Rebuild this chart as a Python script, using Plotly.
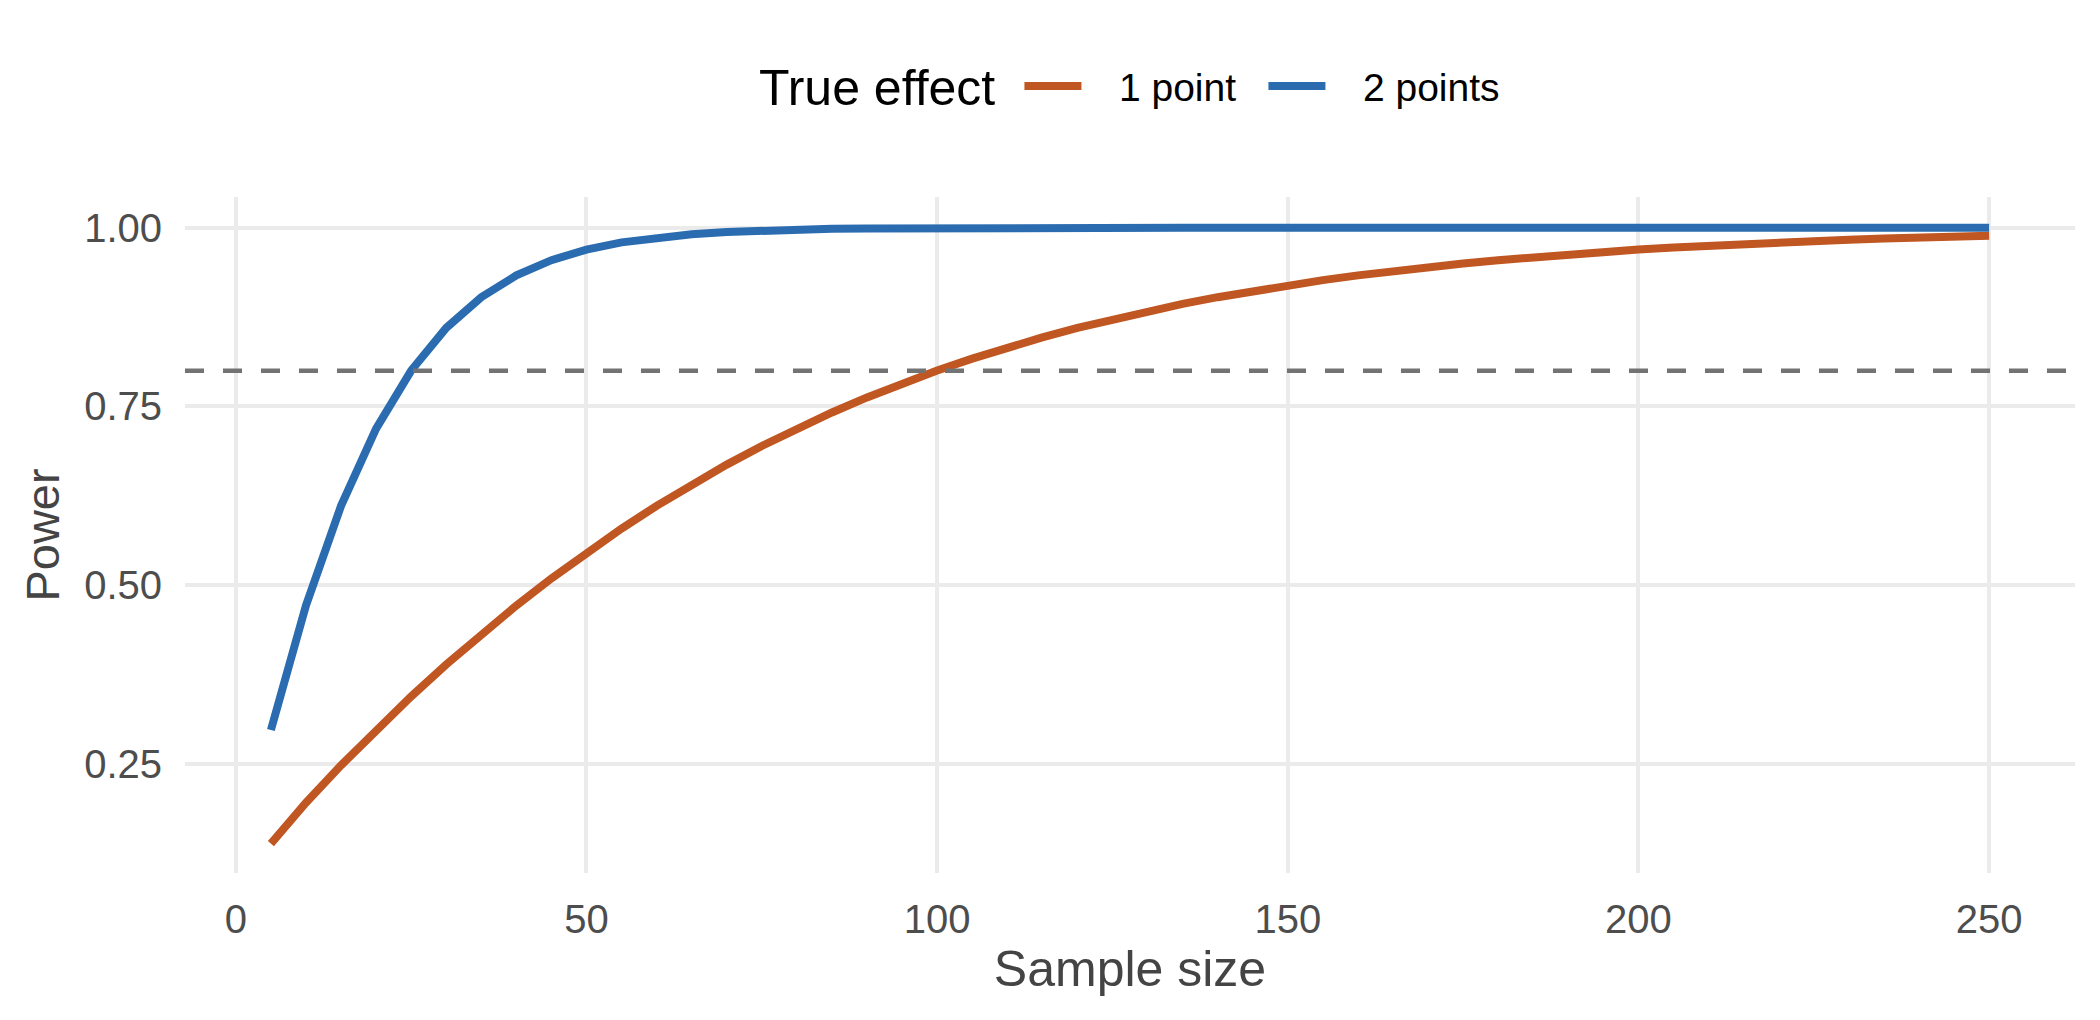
import plotly.graph_objects as go

# ---- data ----
sample_size = list(range(5, 255, 5))

power_1_point = [
    0.1381, 0.1953, 0.2477, 0.2971, 0.3440, 0.3887, 0.4310, 0.4713, 0.5093, 0.5452,
    0.5790, 0.6108, 0.6406, 0.6685, 0.6946, 0.7188, 0.7415, 0.7625, 0.7820, 0.8001,
    0.8168, 0.8323, 0.8466, 0.8598, 0.8719, 0.8831, 0.8934, 0.9028, 0.9115, 0.9194,
    0.9267, 0.9333, 0.9394, 0.9449, 0.9500, 0.9546, 0.9589, 0.9627, 0.9662, 0.9694,
    0.9723, 0.9749, 0.9773, 0.9795, 0.9815, 0.9833, 0.9849, 0.9864, 0.9877, 0.9889,
]

power_2_points = [
    0.2971, 0.4713, 0.6108, 0.7188, 0.8001, 0.8598, 0.9028, 0.9333, 0.9546, 0.9694,
    0.9795, 0.9864, 0.9910, 0.9941, 0.9961, 0.9975, 0.9984, 0.9989, 0.9993, 0.9996,
    0.9997, 0.9998, 0.9999, 0.9999, 0.9999, 1.0, 1.0, 1.0, 1.0, 1.0,
    1.0, 1.0, 1.0, 1.0, 1.0, 1.0, 1.0, 1.0, 1.0, 1.0,
    1.0, 1.0, 1.0, 1.0, 1.0, 1.0, 1.0, 1.0, 1.0, 1.0,
]

series_names = ["1 point", "2 points"]
series_colors = ["#C05621", "#2B6CB0"]
legend_title = "True effect"
target_power = 0.80

x_ticks = [0, 50, 100, 150, 200, 250]
y_ticks = [0.25, 0.50, 0.75, 1.00]
y_tick_labels = ["0.25", "0.50", "0.75", "1.00"]

FONT = "Liberation Sans, Arial, Helvetica, sans-serif"
NBSP = "\u00a0"

fig = go.Figure()
for name, color, values in zip(series_names, series_colors, [power_1_point, power_2_points]):
    fig.add_trace(go.Scatter(
        x=sample_size, y=values, mode="lines", name=NBSP * 3 + name,
        line=dict(color=color, width=8),
        hoverinfo="skip",
    ))

fig.add_hline(y=target_power, line=dict(color="#737373", width=4.5, dash="19px,19px"), layer="above")

fig.add_annotation(
    text=legend_title, xref="paper", yref="paper",
    x=0.3026, xanchor="left", y=1.1612, yanchor="middle",
    showarrow=False, font=dict(size=50, color="black", family=FONT),
)

fig.update_layout(
    width=2100, height=1020,
    margin=dict(l=177, r=33, t=189, b=155, autoexpand=False),
    paper_bgcolor="white", plot_bgcolor="white",
    font=dict(family=FONT, size=40, color="#4D4D4D"),
    showlegend=True,
    legend=dict(
        orientation="h", x=0.4415, xanchor="left", y=1.164, yanchor="middle",
        font=dict(size=39, color="black", family=FONT),
        bgcolor="rgba(0,0,0,0)",
        itemwidth=57,
        entrywidth=172,
    ),
    xaxis=dict(
        range=[-7.25, 262.25], tickvals=x_ticks,
        showgrid=True, gridcolor="#EBEBEB", gridwidth=4.3,
        zeroline=False, showline=False, ticks="", automargin=False,
        tickfont=dict(size=40, color="#4D4D4D"),
        ticklabelstandoff=19,
        title=dict(text="Sample size", font=dict(size=50, color="#444444"), standoff=10),
    ),
    yaxis=dict(
        range=[0.097, 1.043], tickvals=y_ticks, ticktext=y_tick_labels,
        showgrid=True, gridcolor="#EBEBEB", gridwidth=4.3,
        zeroline=False, showline=False, ticks="", automargin=False,
        tickfont=dict(size=40, color="#4D4D4D"),
        ticklabelstandoff=22,
        title=dict(text="Power", font=dict(size=47, color="#444444"), standoff=9),
    ),
)

fig.write_html("out.html")
